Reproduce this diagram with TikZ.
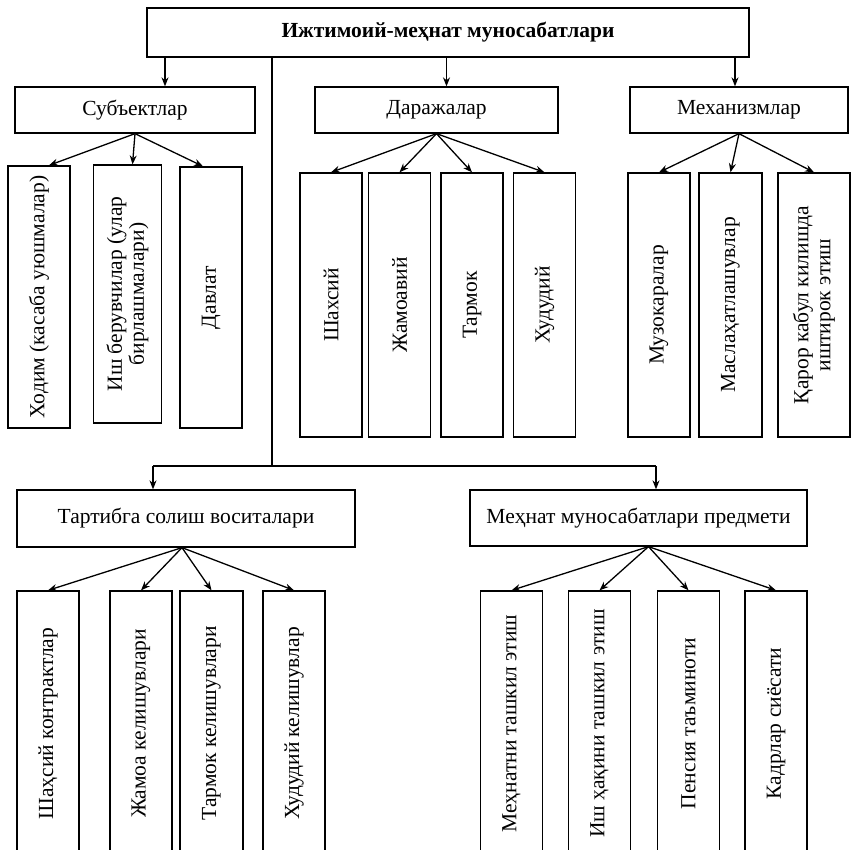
\documentclass[tikz,border=0pt]{standalone}
\usepackage{fontspec}
\setmainfont{Liberation Serif}
\usetikzlibrary{arrows.meta}

\begin{document}
\begin{tikzpicture}[
  x=1pt, y=-1pt,
  box/.style={rectangle, draw, line width=1.3pt, inner sep=2pt, align=center, font=\fontsize{21.5}{22}\selectfont},
  col/.style={box, rotate=90, minimum width=264pt, minimum height=62pt},
  arr/.style={-{Stealth[length=9pt,width=7pt]}, line width=1.3pt},
  line/.style={line width=1.3pt},
]
\useasboundingbox (0,0) rectangle (852,850);
% top level
\node[box, minimum width=602pt, minimum height=49pt, font=\fontsize{21.5}{22}\selectfont\bfseries] (top) at (448,32.5) {Ижтимоий-меҳнат муносабатлари};
\node[box, minimum width=240pt, minimum height=46pt] (subj) at (135,110) {Субъектлар};
\node[box, minimum width=243pt, minimum height=46pt] (dar) at (436.5,110) {Даражалар};
\node[box, minimum width=218pt, minimum height=46pt] (mex) at (739,110) {Механизмлар};
\draw[arr] ([xshift=30pt]subj.north |- top.south) -- ([xshift=30pt]subj.north);
\draw[arr] ([xshift=10pt]dar.north |- top.south) -- ([xshift=10pt]dar.north);
\draw[arr] ([xshift=-4pt]mex.north |- top.south) -- ([xshift=-4pt]mex.north);
% subjects
\node[col, minimum width=262pt] (hodim) at (39,297) {Ходим (касаба уюшмалар)};
\node[col, minimum width=258pt, minimum height=68pt] (ish) at (127.5,294) {Иш берувчилар (улар\\бирлашмалари)};
\node[col, minimum width=261pt] (davlat) at (211,297.5) {Давлат};
\draw[arr] (subj.south) -- ([xshift=10pt]hodim.east);
\draw[arr] (subj.south) -- ([xshift=5pt]ish.east);
\draw[arr] (subj.south) -- ([xshift=-8pt]davlat.east);
% levels
\node[col] (shaxs) at (331,305) {Шахсий};
\node[col] (jamoa) at (399.5,305) {Жамоавий};
\node[col] (tarm) at (472,305) {Тармок};
\node[col] (hudud) at (544.5,305) {Худудий};
\draw[arr] (dar.south) -- (shaxs.east);
\draw[arr] (dar.south) -- (jamoa.east);
\draw[arr] (dar.south) -- (tarm.east);
\draw[arr] (dar.south) -- (hudud.east);
% mechanisms
\node[col] (muzok) at (659,305) {Музокаралар};
\node[col, minimum height=63pt] (masl) at (730.5,305) {Маслаҳатлашувлар};
\node[col, minimum height=72pt] (qaror) at (814,305) {Қарор кабул килишда\\иштирок этиш};
\draw[arr] (mex.south) -- (muzok.east);
\draw[arr] (mex.south) -- (masl.east);
\draw[arr] (mex.south) -- (qaror.east);
% lower branch
\coordinate (split) at (272,466);
\coordinate (lft) at (153,466);
\coordinate (rgt) at (656,466);
\node[box, minimum width=338pt, minimum height=57pt] (tart) at (186,518.5) {Тартибга солиш воситалари};
\node[box, minimum width=337pt, minimum height=56pt] (pred) at (638.5,518) {Меҳнат муносабатлари предмети};
\draw[line] (split |- top.south) -- (split);
\draw[line] (lft) -- (rgt);
\draw[arr] (lft) -- (lft |- tart.north);
\draw[arr] (rgt) -- (rgt |- pred.north);
% regulation tools
\node[col, minimum width=265pt] (kontr) at (48,723.5) {Шаҳсий контрактлар};
\node[col, minimum width=265pt] (jkel) at (141,723.5) {Жамоа келишувлари};
\node[col, minimum width=265pt, minimum height=63pt] (tkel) at (211.5,723.5) {Тармок келишувлари};
\node[col, minimum width=265pt] (hkel) at (294,723.5) {Худудий келишувлар};
\draw[arr] ([xshift=-4pt]tart.south) -- (kontr.east);
\draw[arr] ([xshift=-4pt]tart.south) -- (jkel.east);
\draw[arr] ([xshift=-4pt]tart.south) -- (tkel.east);
\draw[arr] ([xshift=-4pt]tart.south) -- (hkel.east);
% subject of labour relations
\node[col, minimum width=265pt] (tashk) at (511.5,723.5) {Меҳнатни ташкил этиш};
\node[col, minimum width=265pt] (haq) at (599.5,723.5) {Иш ҳақини ташкил этиш};
\node[col, minimum width=265pt] (pens) at (688.5,723.5) {Пенсия таъминоти};
\node[col, minimum width=265pt] (kadr) at (776,723.5) {Кадрлар сиёсати};
\draw[arr] ([xshift=10pt]pred.south) -- (tashk.east);
\draw[arr] ([xshift=10pt]pred.south) -- (haq.east);
\draw[arr] ([xshift=10pt]pred.south) -- (pens.east);
\draw[arr] ([xshift=10pt]pred.south) -- (kadr.east);
\end{tikzpicture}
\end{document}
